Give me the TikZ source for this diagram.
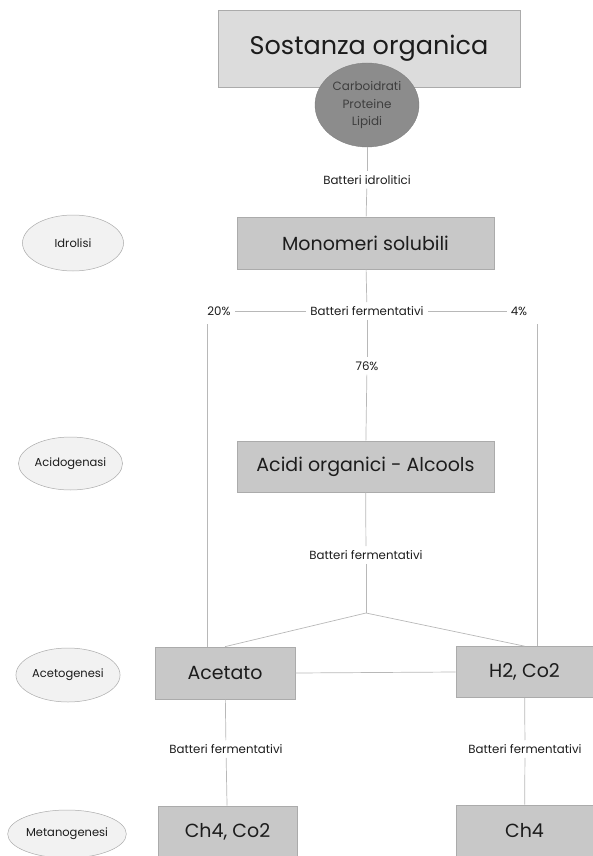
\documentclass[tikz,border=0pt]{standalone}
\usepackage{fontspec}
\setmainfont{Poppins}
\usetikzlibrary{shapes.geometric}
\definecolor{boxgray}{HTML}{C8C8C8}
\definecolor{topgray}{HTML}{DCDCDC}
\definecolor{edgegray}{HTML}{ABABAB}
\definecolor{darkell}{HTML}{8C8C8C}
\definecolor{phasefill}{HTML}{F2F2F2}
\definecolor{linegray}{HTML}{B8B8B8}
\definecolor{ink}{HTML}{1C1C1C}

\begin{document}
\begin{tikzpicture}[x=1pt, y=-1pt, every node/.style={text=ink, inner sep=4pt},
  box/.style={rectangle, draw=edgegray, fill=boxgray, line width=0.7pt},
  phase/.style={ellipse, draw=edgegray, fill=phasefill, line width=0.5pt, inner sep=1pt, font=\fontsize{11.5}{13}\selectfont},
  lbl/.style={font=\fontsize{11.8}{14}\selectfont},
  conn/.style={draw=linegray, line width=0.7pt}]

\clip (0,0) rectangle (593,856);
\useasboundingbox (0,0) rectangle (593,856);

% phases on the left
\node[phase, minimum width=101, minimum height=56] (idrolisi) at (73,243) {Idrolisi};
\node[phase, minimum width=101, minimum height=53] (acidogenasi) at (70.5,463.5) {Acidogenasi};
\node[phase, minimum width=100, minimum height=54] (acetogenesi) at (68,675) {Acetogenesi};
\node[phase, minimum width=112, minimum height=48] (metanogenesi) at (67,834) {Metanogenesi};

% main boxes
\node[box, fill=topgray, minimum width=302, minimum height=77, font=\fontsize{25.5}{28}\selectfont] (sostanza) at (369,48.5) {Sostanza organica};
\node[ellipse, draw=gray, fill=darkell, minimum width=104, minimum height=84, inner sep=0pt, align=center, font=\fontsize{12}{17.5}\selectfont, text=ink!85] (componenti) at (367,105) {Carboidrati\\Proteine\\Lipidi};
\node[box, minimum width=257, minimum height=52, font=\fontsize{19}{22}\selectfont] (monomeri) at (365.5,243) {Monomeri solubili};
\node[box, minimum width=257, minimum height=51, font=\fontsize{19}{22}\selectfont] (acidi) at (365.5,466.5) {Acidi organici - Alcools};
\node[box, minimum width=140, minimum height=52, font=\fontsize{19}{22}\selectfont] (acetato) at (225,673) {Acetato};
\node[box, minimum width=137, minimum height=51, font=\fontsize{19}{22}\selectfont] (idrogeno) at (524.5,672) {H2, Co2};
\node[box, minimum width=139, minimum height=52, font=\fontsize{19}{22}\selectfont] (metano) at (227.5,832) {Ch4, Co2};
\node[box, minimum width=137, minimum height=52, font=\fontsize{19}{22}\selectfont] (ch4) at (524.5,831) {Ch4};

% labels
\node[lbl] (idrolitici) at (367,180) {Batteri idrolitici};
\node[lbl] (ferm1) at (367,311) {Batteri fermentativi};
\node[lbl] (p20) at (219,311) {20\%};
\node[lbl] (p4) at (519,311) {4\%};
\node[lbl] (p76) at (367,366) {76\%};
\node[lbl] (ferm2) at (366,555) {Batteri fermentativi};
\node[lbl] (ferm3) at (226,749) {Batteri fermentativi};
\node[lbl] (ferm4) at (525,749) {Batteri fermentativi};

\coordinate (split) at (366,613);
\coordinate (left20) at (207,324);
\coordinate (right4) at (537,324);

% connectors
\draw[conn] (componenti) -- (idrolitici);
\draw[conn] (idrolitici) -- (monomeri);
\draw[conn] (monomeri) -- (ferm1);
\draw[conn] (ferm1) -- (p20);
\draw[conn] (ferm1) -- (p4);
\draw[conn] (ferm1) -- (p76);
\draw[conn] (p76) -- (acidi);
\draw[conn] (left20) -- (left20 |- acetato.north);
\draw[conn] (right4) -- (right4 |- idrogeno.north);
\draw[conn] (acidi) -- (ferm2);
\draw[conn] (ferm2) -- (split);
\draw[conn] (split) -- (acetato.north);
\draw[conn] (split) -- (idrogeno.north);
\draw[conn] (acetato.east) -- (idrogeno.west);
\draw[conn] (acetato) -- (ferm3);
\draw[conn] (ferm3) -- (metano);
\draw[conn] (idrogeno) -- (ferm4);
\draw[conn] (ferm4) -- (ch4);

\end{tikzpicture}
\end{document}
